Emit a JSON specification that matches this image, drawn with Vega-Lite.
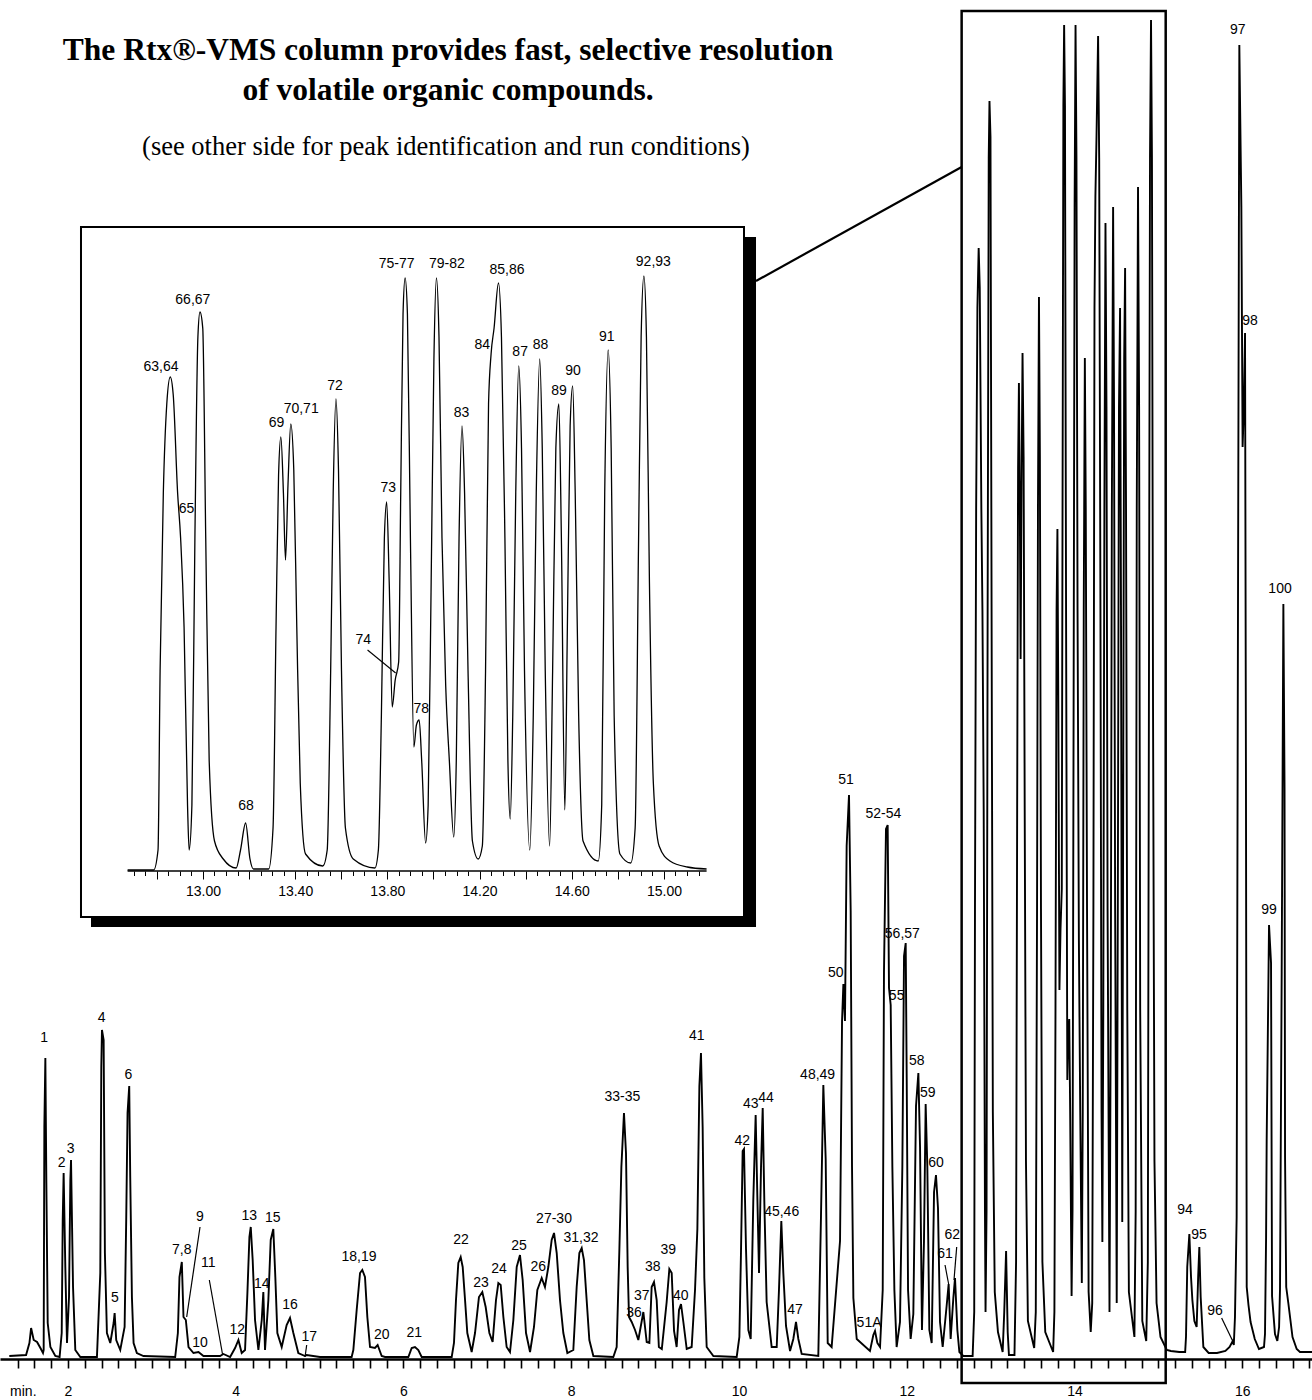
{
"$schema":"https://vega.github.io/schema/vega-lite/v6.json",
"width":1312,"height":1400,"autosize":"none","padding":0,
"config":{"view":{"stroke":null},"axis":{"grid":false}},
"datasets":{
"main":[{"t":1.30,"v":1},{"t":1.50,"v":2},{"t":1.540,"v":14},{"t":1.560,"v":29},{"t":1.591,"v":17},{"t":1.631,"v":15},{"t":1.671,"v":9},{"t":1.702,"v":4},{"t":1.710,"v":7},{"t":1.718,"v":230},{"t":1.730,"v":299},{"t":1.742,"v":174},{"t":1.758,"v":34},{"t":1.790,"v":10},{"t":1.849,"v":1},{"t":1.900,"v":0},{"t":1.925,"v":24},{"t":1.937,"v":137},{"t":1.948,"v":184},{"t":1.968,"v":90},{"t":1.988,"v":14},{"t":2.012,"v":60},{"t":2.028,"v":177},{"t":2.036,"v":197},{"t":2.060,"v":70},{"t":2.087,"v":7},{"t":2.147,"v":0},{"t":2.345,"v":0},{"t":2.385,"v":84},{"t":2.397,"v":290},{"t":2.405,"v":327},{"t":2.425,"v":317},{"t":2.440,"v":104},{"t":2.464,"v":24},{"t":2.504,"v":14},{"t":2.544,"v":34},{"t":2.556,"v":44},{"t":2.575,"v":17},{"t":2.623,"v":7},{"t":2.675,"v":30},{"t":2.694,"v":137},{"t":2.710,"v":244},{"t":2.730,"v":271},{"t":2.742,"v":180},{"t":2.762,"v":60},{"t":2.782,"v":14},{"t":2.821,"v":4},{"t":2.900,"v":1},{"t":3.278,"v":0},{"t":3.310,"v":24},{"t":3.329,"v":80},{"t":3.357,"v":95},{"t":3.377,"v":40},{"t":3.405,"v":37},{"t":3.437,"v":10},{"t":3.496,"v":4},{"t":3.556,"v":5},{"t":3.615,"v":1},{"t":3.813,"v":1},{"t":3.853,"v":3},{"t":3.933,"v":0},{"t":3.992,"v":9},{"t":4.032,"v":17},{"t":4.071,"v":4},{"t":4.111,"v":7},{"t":4.139,"v":64},{"t":4.163,"v":120},{"t":4.179,"v":130},{"t":4.202,"v":97},{"t":4.230,"v":37},{"t":4.270,"v":7},{"t":4.310,"v":37},{"t":4.329,"v":65},{"t":4.349,"v":7},{"t":4.389,"v":57},{"t":4.417,"v":117},{"t":4.448,"v":128},{"t":4.472,"v":80},{"t":4.496,"v":24},{"t":4.548,"v":10},{"t":4.607,"v":32},{"t":4.647,"v":39},{"t":4.687,"v":24},{"t":4.746,"v":4},{"t":4.825,"v":1},{"t":4.845,"v":2},{"t":5.004,"v":0},{"t":5.382,"v":0},{"t":5.402,"v":7},{"t":5.442,"v":47},{"t":5.482,"v":84},{"t":5.509,"v":87},{"t":5.541,"v":80},{"t":5.569,"v":40},{"t":5.601,"v":10},{"t":5.660,"v":9},{"t":5.692,"v":12},{"t":5.740,"v":1},{"t":5.780,"v":0},{"t":6.058,"v":0},{"t":6.098,"v":9},{"t":6.137,"v":10},{"t":6.177,"v":7},{"t":6.217,"v":0},{"t":6.575,"v":0},{"t":6.602,"v":14},{"t":6.626,"v":57},{"t":6.654,"v":94},{"t":6.682,"v":100},{"t":6.706,"v":90},{"t":6.734,"v":57},{"t":6.761,"v":24},{"t":6.813,"v":5},{"t":6.853,"v":24},{"t":6.900,"v":60},{"t":6.940,"v":65},{"t":6.980,"v":50},{"t":7.024,"v":24},{"t":7.063,"v":15},{"t":7.103,"v":57},{"t":7.131,"v":74},{"t":7.159,"v":72},{"t":7.191,"v":40},{"t":7.230,"v":10},{"t":7.270,"v":5},{"t":7.310,"v":37},{"t":7.350,"v":90},{"t":7.389,"v":102},{"t":7.421,"v":77},{"t":7.461,"v":24},{"t":7.509,"v":5},{"t":7.556,"v":30},{"t":7.596,"v":67},{"t":7.648,"v":79},{"t":7.687,"v":70},{"t":7.727,"v":90},{"t":7.767,"v":117},{"t":7.795,"v":124},{"t":7.827,"v":104},{"t":7.866,"v":57},{"t":7.906,"v":24},{"t":7.954,"v":4},{"t":8.025,"v":7},{"t":8.065,"v":70},{"t":8.097,"v":104},{"t":8.125,"v":109},{"t":8.152,"v":97},{"t":8.184,"v":57},{"t":8.216,"v":17},{"t":8.264,"v":1},{"t":8.502,"v":0},{"t":8.542,"v":10},{"t":8.574,"v":107},{"t":8.598,"v":190},{"t":8.629,"v":244},{"t":8.653,"v":204},{"t":8.673,"v":90},{"t":8.689,"v":40},{"t":8.721,"v":35},{"t":8.761,"v":27},{"t":8.800,"v":17},{"t":8.860,"v":45},{"t":8.900,"v":15},{"t":8.932,"v":14},{"t":8.959,"v":70},{"t":8.987,"v":75},{"t":9.019,"v":57},{"t":9.045,"v":10},{"t":9.080,"v":8},{"t":9.138,"v":55},{"t":9.170,"v":88},{"t":9.198,"v":84},{"t":9.226,"v":26},{"t":9.257,"v":10},{"t":9.285,"v":47},{"t":9.309,"v":53},{"t":9.337,"v":35},{"t":9.377,"v":8},{"t":9.436,"v":10},{"t":9.476,"v":67},{"t":9.504,"v":128},{"t":9.528,"v":271},{"t":9.547,"v":304},{"t":9.567,"v":230},{"t":9.587,"v":79},{"t":9.615,"v":10},{"t":9.695,"v":1},{"t":9.973,"v":0},{"t":10.005,"v":20},{"t":10.024,"v":104},{"t":10.044,"v":206},{"t":10.060,"v":208},{"t":10.084,"v":108},{"t":10.112,"v":27},{"t":10.140,"v":18},{"t":10.171,"v":157},{"t":10.199,"v":242},{"t":10.219,"v":161},{"t":10.239,"v":84},{"t":10.263,"v":190},{"t":10.283,"v":249},{"t":10.303,"v":153},{"t":10.330,"v":55},{"t":10.390,"v":10},{"t":10.450,"v":10},{"t":10.477,"v":67},{"t":10.505,"v":136},{"t":10.529,"v":84},{"t":10.561,"v":31},{"t":10.609,"v":6},{"t":10.648,"v":18},{"t":10.680,"v":35},{"t":10.708,"v":18},{"t":10.748,"v":3},{"t":10.946,"v":1},{"t":10.978,"v":141},{"t":11.006,"v":272},{"t":11.034,"v":198},{"t":11.058,"v":14},{"t":11.105,"v":10},{"t":11.205,"v":116},{"t":11.229,"v":336},{"t":11.245,"v":373},{"t":11.264,"v":336},{"t":11.284,"v":511},{"t":11.312,"v":562},{"t":11.332,"v":446},{"t":11.348,"v":190},{"t":11.364,"v":59},{"t":11.404,"v":18},{"t":11.562,"v":6},{"t":11.602,"v":22},{"t":11.622,"v":26},{"t":11.650,"v":14},{"t":11.682,"v":10},{"t":11.714,"v":67},{"t":11.729,"v":385},{"t":11.753,"v":528},{"t":11.773,"v":532},{"t":11.789,"v":369},{"t":11.809,"v":352},{"t":11.829,"v":190},{"t":11.853,"v":67},{"t":11.880,"v":10},{"t":11.920,"v":35},{"t":11.948,"v":190},{"t":11.968,"v":401},{"t":11.988,"v":414},{"t":12.000,"v":279},{"t":12.016,"v":67},{"t":12.047,"v":18},{"t":12.079,"v":43},{"t":12.111,"v":251},{"t":12.139,"v":284},{"t":12.159,"v":210},{"t":12.182,"v":27},{"t":12.206,"v":116},{"t":12.226,"v":253},{"t":12.246,"v":190},{"t":12.270,"v":27},{"t":12.298,"v":14},{"t":12.326,"v":165},{"t":12.349,"v":182},{"t":12.373,"v":149},{"t":12.397,"v":35},{"t":12.429,"v":10},{"t":12.476,"v":51},{"t":12.500,"v":73},{"t":12.524,"v":18},{"t":12.556,"v":59},{"t":12.576,"v":79},{"t":12.604,"v":27},{"t":12.628,"v":5},{"t":12.675,"v":1},{"t":12.786,"v":1},{"t":12.805,"v":45},{"t":12.814,"v":448},{"t":12.828,"v":848},{"t":12.843,"v":1049},{"t":12.858,"v":1109},{"t":12.871,"v":1069},{"t":12.890,"v":848},{"t":12.903,"v":747},{"t":12.918,"v":547},{"t":12.933,"v":146},{"t":12.940,"v":45},{"t":12.952,"v":146},{"t":12.965,"v":747},{"t":12.978,"v":1199},{"t":12.987,"v":1256},{"t":12.999,"v":1220},{"t":13.012,"v":747},{"t":13.027,"v":245},{"t":13.050,"v":65},{"t":13.088,"v":25},{"t":13.144,"v":5},{"t":13.163,"v":45},{"t":13.185,"v":106},{"t":13.204,"v":25},{"t":13.219,"v":2},{"t":13.285,"v":2},{"t":13.304,"v":95},{"t":13.317,"v":547},{"t":13.328,"v":889},{"t":13.338,"v":974},{"t":13.349,"v":848},{"t":13.358,"v":698},{"t":13.369,"v":869},{"t":13.381,"v":1004},{"t":13.394,"v":900},{"t":13.407,"v":547},{"t":13.422,"v":196},{"t":13.445,"v":36},{"t":13.520,"v":9},{"t":13.539,"v":45},{"t":13.554,"v":448},{"t":13.565,"v":848},{"t":13.577,"v":1060},{"t":13.588,"v":900},{"t":13.601,"v":448},{"t":13.618,"v":95},{"t":13.652,"v":25},{"t":13.746,"v":5},{"t":13.761,"v":45},{"t":13.774,"v":347},{"t":13.787,"v":747},{"t":13.797,"v":828},{"t":13.808,"v":648},{"t":13.821,"v":367},{"t":13.834,"v":428},{"t":13.849,"v":468},{"t":13.858,"v":848},{"t":13.868,"v":1251},{"t":13.877,"v":1332},{"t":13.887,"v":1251},{"t":13.900,"v":747},{"t":13.915,"v":277},{"t":13.926,"v":326},{"t":13.938,"v":338},{"t":13.949,"v":245},{"t":13.966,"v":61},{"t":13.977,"v":146},{"t":13.990,"v":648},{"t":14.002,"v":1150},{"t":14.013,"v":1332},{"t":14.024,"v":1199},{"t":14.037,"v":747},{"t":14.053,"v":416},{"t":14.069,"v":245},{"t":14.088,"v":74},{"t":14.099,"v":245},{"t":14.111,"v":747},{"t":14.124,"v":999},{"t":14.135,"v":848},{"t":14.150,"v":448},{"t":14.169,"v":65},{"t":14.194,"v":25},{"t":14.212,"v":54},{"t":14.226,"v":448},{"t":14.239,"v":1049},{"t":14.250,"v":1161},{"t":14.263,"v":1220},{"t":14.282,"v":1321},{"t":14.295,"v":1199},{"t":14.310,"v":747},{"t":14.323,"v":245},{"t":14.333,"v":115},{"t":14.344,"v":347},{"t":14.357,"v":848},{"t":14.370,"v":1134},{"t":14.382,"v":950},{"t":14.395,"v":448},{"t":14.418,"v":45},{"t":14.433,"v":347},{"t":14.446,"v":848},{"t":14.461,"v":1150},{"t":14.472,"v":950},{"t":14.485,"v":448},{"t":14.504,"v":54},{"t":14.517,"v":448},{"t":14.531,"v":950},{"t":14.544,"v":1049},{"t":14.555,"v":747},{"t":14.570,"v":135},{"t":14.581,"v":547},{"t":14.593,"v":999},{"t":14.604,"v":1089},{"t":14.615,"v":848},{"t":14.630,"v":347},{"t":14.649,"v":65},{"t":14.715,"v":20},{"t":14.730,"v":146},{"t":14.743,"v":848},{"t":14.758,"v":1170},{"t":14.771,"v":950},{"t":14.784,"v":347},{"t":14.809,"v":36},{"t":14.856,"v":16},{"t":14.875,"v":95},{"t":14.890,"v":747},{"t":14.901,"v":1199},{"t":14.913,"v":1337},{"t":14.924,"v":1199},{"t":14.937,"v":648},{"t":14.954,"v":196},{"t":14.979,"v":54},{"t":15.026,"v":20},{"t":15.101,"v":7},{"t":15.15,"v":6},{"t":15.25,"v":5},{"t":15.32,"v":5},{"t":15.330,"v":20},{"t":15.345,"v":90},{"t":15.370,"v":123},{"t":15.390,"v":80},{"t":15.406,"v":57},{"t":15.430,"v":36},{"t":15.457,"v":30},{"t":15.475,"v":80},{"t":15.489,"v":110},{"t":15.505,"v":60},{"t":15.537,"v":10},{"t":15.60,"v":4},{"t":15.70,"v":4},{"t":15.80,"v":6},{"t":15.85,"v":10},{"t":15.887,"v":16},{"t":15.900,"v":12},{"t":15.914,"v":40},{"t":15.934,"v":140},{"t":15.950,"v":750},{"t":15.966,"v":1312},{"t":15.990,"v":1150},{"t":16.005,"v":910},{"t":16.020,"v":950},{"t":16.034,"v":1024},{"t":16.045,"v":577},{"t":16.054,"v":70},{"t":16.075,"v":52},{"t":16.10,"v":35},{"t":16.15,"v":18},{"t":16.20,"v":8},{"t":16.260,"v":10},{"t":16.272,"v":23},{"t":16.285,"v":120},{"t":16.292,"v":217},{"t":16.320,"v":432},{"t":16.344,"v":394},{"t":16.356,"v":61},{"t":16.391,"v":23},{"t":16.419,"v":16},{"t":16.440,"v":30},{"t":16.451,"v":68},{"t":16.471,"v":385},{"t":16.491,"v":753},{"t":16.505,"v":568},{"t":16.511,"v":200},{"t":16.525,"v":70},{"t":16.550,"v":54},{"t":16.60,"v":20},{"t":16.65,"v":8},{"t":16.689,"v":5},{"t":16.833,"v":5}],
"mainLabels":[{"label":"1","t":1.717,"v":319},{"label":"2","t":1.925,"v":194},{"label":"3","t":2.032,"v":208},{"label":"4","t":2.402,"v":339},{"label":"5","t":2.560,"v":59},{"label":"6","t":2.719,"v":282},{"label":"7,8","t":3.356,"v":107},{"label":"9","t":3.574,"v":140},{"label":"10","t":3.574,"v":14},{"label":"11","t":3.673,"v":94},{"label":"12","t":4.019,"v":27},{"label":"13","t":4.162,"v":141},{"label":"14","t":4.309,"v":73},{"label":"15","t":4.441,"v":139},{"label":"16","t":4.647,"v":52},{"label":"17","t":4.877,"v":20},{"label":"18,19","t":5.470,"v":100},{"label":"20","t":5.740,"v":22},{"label":"21","t":6.129,"v":24},{"label":"22","t":6.686,"v":117},{"label":"23","t":6.924,"v":74},{"label":"24","t":7.139,"v":88},{"label":"25","t":7.377,"v":111},{"label":"26","t":7.608,"v":90},{"label":"27-30","t":7.795,"v":138},{"label":"31,32","t":8.117,"v":119},{"label":"33-35","t":8.609,"v":260},{"label":"36","t":8.749,"v":44},{"label":"37","t":8.840,"v":61},{"label":"38","t":8.971,"v":90},{"label":"39","t":9.158,"v":107},{"label":"40","t":9.305,"v":61},{"label":"41","t":9.496,"v":321},{"label":"42","t":10.040,"v":216},{"label":"43","t":10.140,"v":253},{"label":"44","t":10.322,"v":259},{"label":"45,46","t":10.509,"v":145},{"label":"47","t":10.668,"v":47},{"label":"48,49","t":10.938,"v":282},{"label":"50","t":11.153,"v":384},{"label":"51","t":11.276,"v":577},{"label":"51A","t":11.551,"v":34},{"label":"52-54","t":11.721,"v":543},{"label":"55","t":11.880,"v":361},{"label":"56,57","t":11.948,"v":423},{"label":"58","t":12.119,"v":296},{"label":"59","t":12.250,"v":264},{"label":"60","t":12.349,"v":194},{"label":"61","t":12.457,"v":103},{"label":"62","t":12.544,"v":122},{"label":"94","t":15.318,"v":147},{"label":"95","t":15.485,"v":122},{"label":"96","t":15.676,"v":46},{"label":"97","t":15.946,"v":1327},{"label":"98","t":16.093,"v":1036},{"label":"99","t":16.320,"v":447},{"label":"100","t":16.451,"v":768}],
"mainLeaders":[{"t":3.574,"v":130,"t2":3.415,"v2":40},{"t":3.685,"v":77,"t2":3.844,"v2":2},{"t":4.846,"v":12,"t2":4.826,"v2":0},{"t":12.457,"v":92,"t2":12.500,"v2":73},{"t":12.596,"v":110,"t2":12.564,"v2":77},{"t":15.755,"v":39,"t2":15.887,"v2":16}],
"headings":[{"kind":"title","text":"The Rtx®-VMS column provides fast, selective resolution","t":6.531,"v":1297},{"kind":"title","text":"of volatile organic compounds.","t":6.531,"v":1257},{"kind":"sub","text":"(see other side for peak identification and run conditions)","t":6.507,"v":1202}],
"inset":[{"t":12.673,"v":0},{"t":12.786,"v":0},{"t":12.805,"v":20},{"t":12.814,"v":199},{"t":12.828,"v":377},{"t":12.843,"v":466},{"t":12.858,"v":493},{"t":12.871,"v":475},{"t":12.890,"v":377},{"t":12.903,"v":332},{"t":12.918,"v":243},{"t":12.933,"v":65},{"t":12.940,"v":20},{"t":12.952,"v":65},{"t":12.965,"v":332},{"t":12.978,"v":533},{"t":12.987,"v":558},{"t":12.999,"v":542},{"t":13.012,"v":332},{"t":13.027,"v":109},{"t":13.050,"v":29},{"t":13.088,"v":11},{"t":13.144,"v":2},{"t":13.163,"v":20},{"t":13.185,"v":47},{"t":13.204,"v":11},{"t":13.219,"v":1},{"t":13.285,"v":1},{"t":13.304,"v":42},{"t":13.317,"v":243},{"t":13.328,"v":395},{"t":13.338,"v":433},{"t":13.349,"v":377},{"t":13.358,"v":310},{"t":13.369,"v":386},{"t":13.381,"v":446},{"t":13.394,"v":400},{"t":13.407,"v":243},{"t":13.422,"v":87},{"t":13.445,"v":16},{"t":13.520,"v":4},{"t":13.539,"v":20},{"t":13.554,"v":199},{"t":13.565,"v":377},{"t":13.577,"v":471},{"t":13.588,"v":400},{"t":13.601,"v":199},{"t":13.618,"v":42},{"t":13.652,"v":11},{"t":13.746,"v":2},{"t":13.761,"v":20},{"t":13.774,"v":154},{"t":13.787,"v":332},{"t":13.797,"v":368},{"t":13.808,"v":288},{"t":13.821,"v":163},{"t":13.834,"v":190},{"t":13.849,"v":208},{"t":13.858,"v":377},{"t":13.868,"v":556},{"t":13.877,"v":592},{"t":13.887,"v":556},{"t":13.900,"v":332},{"t":13.915,"v":123},{"t":13.926,"v":145},{"t":13.938,"v":150},{"t":13.949,"v":109},{"t":13.966,"v":27},{"t":13.977,"v":65},{"t":13.990,"v":288},{"t":14.002,"v":511},{"t":14.013,"v":592},{"t":14.024,"v":533},{"t":14.037,"v":332},{"t":14.053,"v":185},{"t":14.069,"v":109},{"t":14.088,"v":33},{"t":14.099,"v":109},{"t":14.111,"v":332},{"t":14.124,"v":444},{"t":14.135,"v":377},{"t":14.150,"v":199},{"t":14.169,"v":29},{"t":14.194,"v":11},{"t":14.212,"v":24},{"t":14.226,"v":199},{"t":14.239,"v":466},{"t":14.250,"v":516},{"t":14.263,"v":542},{"t":14.282,"v":587},{"t":14.295,"v":533},{"t":14.310,"v":332},{"t":14.323,"v":109},{"t":14.333,"v":51},{"t":14.344,"v":154},{"t":14.357,"v":377},{"t":14.370,"v":504},{"t":14.382,"v":422},{"t":14.395,"v":199},{"t":14.418,"v":20},{"t":14.433,"v":154},{"t":14.446,"v":377},{"t":14.461,"v":511},{"t":14.472,"v":422},{"t":14.485,"v":199},{"t":14.504,"v":24},{"t":14.517,"v":199},{"t":14.531,"v":422},{"t":14.544,"v":466},{"t":14.555,"v":332},{"t":14.570,"v":60},{"t":14.581,"v":243},{"t":14.593,"v":444},{"t":14.604,"v":484},{"t":14.615,"v":377},{"t":14.630,"v":154},{"t":14.649,"v":29},{"t":14.715,"v":9},{"t":14.730,"v":65},{"t":14.743,"v":377},{"t":14.758,"v":520},{"t":14.771,"v":422},{"t":14.784,"v":154},{"t":14.809,"v":16},{"t":14.856,"v":7},{"t":14.875,"v":42},{"t":14.890,"v":332},{"t":14.901,"v":533},{"t":14.913,"v":594},{"t":14.924,"v":533},{"t":14.937,"v":288},{"t":14.954,"v":87},{"t":14.979,"v":24},{"t":15.026,"v":9},{"t":15.101,"v":3},{"t":15.185,"v":1}],
"insetLabels":[{"label":"63,64","t":12.818,"v":503},{"label":"65","t":12.929,"v":361},{"label":"66,67","t":12.956,"v":570},{"label":"68","t":13.187,"v":64},{"label":"69","t":13.319,"v":447},{"label":"70,71","t":13.426,"v":461},{"label":"72","t":13.573,"v":484},{"label":"73","t":13.804,"v":382},{"label":"74","t":13.695,"v":230},{"label":"75-77","t":13.840,"v":606},{"label":"78","t":13.947,"v":161},{"label":"79-82","t":14.058,"v":606},{"label":"83","t":14.122,"v":457},{"label":"84","t":14.212,"v":525},{"label":"85,86","t":14.319,"v":600},{"label":"87","t":14.376,"v":518},{"label":"88","t":14.464,"v":525},{"label":"89","t":14.545,"v":479},{"label":"90","t":14.605,"v":499},{"label":"91","t":14.752,"v":533},{"label":"92,93","t":14.954,"v":608}],
"insetLeaders":[{"t":13.714,"v":220,"t2":13.836,"v2":197}]
},
"layer":[
{"layer":[
 {"data":{"name":"main"},"mark":{"type":"line","color":"black","strokeWidth":1.9,"interpolate":"linear"},
  "encoding":{"x":{"field":"t","type":"quantitative","scale":{"domain":[1.18922,16.8324],"nice":false,"zero":false},
   "axis":{"orient":"bottom","offset":-41,"title":null,"tickCount":300,"values":[1.4,1.6,1.8,2,2.2,2.4,2.6,2.8,3,3.2,3.4,3.6,3.8,4,4.2,4.4,4.6,4.8,5,5.2,5.4,5.6,5.8,6,6.2,6.4,6.6,6.8,7,7.2,7.4,7.6,7.8,8,8.2,8.4,8.6,8.8,9,9.2,9.4,9.6,9.8,10,10.2,10.4,10.6,10.8,11,11.2,11.4,11.6,11.8,12,12.2,12.4,12.6,12.8,13,13.2,13.4,13.6,13.8,14,14.2,14.4,14.6,14.8,15,15.2,15.4,15.6,15.8,16,16.2,16.4,16.6,16.8],
    "labelExpr":"abs(datum.value/2 - round(datum.value/2)) < 0.01 ? format(datum.value,'d') : ''",
    "domainColor":"black","domainWidth":2.5,"tickColor":"black","tickWidth":1.6,"tickSize":9,"labelColor":"black","labelFont":"Liberation Sans, sans-serif","labelFontSize":14,"labelPadding":16,"labelOverlap":false,"labelFlush":false,"grid":false}},
   "y":{"field":"v","type":"quantitative","scale":{"domain":[-43,1357],"nice":false,"zero":false},"axis":null},"order":{"field":"t","type":"quantitative"}}},
 {"data":{"name":"mainLabels"},"mark":{"type":"text","font":"Liberation Sans, sans-serif","fontSize":14,"align":"center","baseline":"middle","color":"black"},
  "encoding":{"x":{"field":"t","type":"quantitative","scale":{"domain":[1.18922,16.8324],"nice":false,"zero":false}},"y":{"field":"v","type":"quantitative","scale":{"domain":[-43,1357],"nice":false,"zero":false},"axis":null},"text":{"field":"label"}}},
 {"data":{"name":"mainLeaders"},"mark":{"type":"rule","color":"black","strokeWidth":1.2},
  "encoding":{"x":{"field":"t","type":"quantitative","scale":{"domain":[1.18922,16.8324],"nice":false,"zero":false}},"x2":{"field":"t2"},"y":{"field":"v","type":"quantitative","scale":{"domain":[-43,1357],"nice":false,"zero":false},"axis":null},"y2":{"field":"v2"}}},
 {"data":{"name":"headings"},"transform":[{"filter":"datum.kind == 'title'"}],"mark":{"type":"text","font":"Liberation Serif","fontWeight":"bold","fontSize":31.5,"align":"center","baseline":"alphabetic","color":"black"},
  "encoding":{"x":{"field":"t","type":"quantitative","scale":{"domain":[1.18922,16.8324],"nice":false,"zero":false}},"y":{"field":"v","type":"quantitative","scale":{"domain":[-43,1357],"nice":false,"zero":false},"axis":null},"text":{"field":"text"}}},
 {"data":{"name":"headings"},"transform":[{"filter":"datum.kind == 'sub'"}],"mark":{"type":"text","font":"Liberation Serif","fontSize":26.5,"align":"center","baseline":"alphabetic","color":"black"},
  "encoding":{"x":{"field":"t","type":"quantitative","scale":{"domain":[1.18922,16.8324],"nice":false,"zero":false}},"y":{"field":"v","type":"quantitative","scale":{"domain":[-43,1357],"nice":false,"zero":false},"axis":null},"text":{"field":"text"}}},
 {"data":{"values":[{"label":"min."}]},"mark":{"type":"text","font":"Liberation Sans, sans-serif","fontSize":14,"align":"center","baseline":"middle","color":"black"},
  "encoding":{"x":{"datum":1.467,"type":"quantitative","scale":{"domain":[1.18922,16.8324],"nice":false,"zero":false}},"y":{"datum":-35,"type":"quantitative","scale":{"domain":[-43,1357],"nice":false,"zero":false},"axis":null},"text":{"field":"label"}}},
 {"data":{"values":[{}]},"mark":{"type":"rect","filled":false,"color":"black","strokeWidth":2.5},
  "encoding":{"x":{"datum":12.655,"type":"quantitative","scale":{"domain":[1.18922,16.8324],"nice":false,"zero":false}},"x2":{"datum":15.088},"y":{"datum":1346,"type":"quantitative","scale":{"domain":[-43,1357],"nice":false,"zero":false},"axis":null},"y2":{"datum":-26}}},
 {"data":{"values":[{}]},"mark":{"type":"rule","color":"black","strokeWidth":2.2},
  "encoding":{"x":{"datum":10.203,"type":"quantitative","scale":{"domain":[1.18922,16.8324],"nice":false,"zero":false}},"x2":{"datum":12.655},"y":{"datum":1076,"type":"quantitative","scale":{"domain":[-43,1357],"nice":false,"zero":false},"axis":null},"y2":{"datum":1190}}}
]},
{"layer":[
 {"data":{"name":"inset"},"mark":{"type":"line","color":"black","strokeWidth":1.3,"interpolate":"monotone"},
  "encoding":{"x":{"field":"t","type":"quantitative","scale":{"domain":[12.1194,17.8116],"nice":false,"zero":false},
   "axis":{"orient":"bottom","offset":-529,"zindex":1,"title":null,"domain":false,"tickCount":300,"values":[12.7,12.75,12.8,12.85,12.9,12.95,13,13.05,13.1,13.15,13.2,13.25,13.3,13.35,13.4,13.45,13.5,13.55,13.6,13.65,13.7,13.75,13.8,13.85,13.9,13.95,14,14.05,14.1,14.15,14.2,14.25,14.3,14.35,14.4,14.45,14.5,14.55,14.6,14.65,14.7,14.75,14.8,14.85,14.9,14.95,15,15.05,15.1,15.15],
    "labelExpr":"abs((datum.value-13)/0.4 - round((datum.value-13)/0.4)) < 0.01 ? format(datum.value,'.2f') : ''",
    "tickColor":"black","tickWidth":1,"tickSize":{"condition":{"test":"abs(datum.value*5 - round(datum.value*5)) < 0.01","value":8},"value":4.5},
    "labelColor":"black","labelFont":"Liberation Sans, sans-serif","labelFontSize":14,"labelPadding":5,"labelOverlap":false,"labelFlush":false,"grid":false}},
   "y":{"field":"v","type":"quantitative","scale":{"domain":[-530,870],"nice":false,"zero":false},"axis":null},"order":{"field":"t","type":"quantitative"}}},
 {"data":{"values":[{}]},"mark":{"type":"rect","color":"black"},
  "encoding":{"x":{"datum":15.3473,"type":"quantitative","scale":{"domain":[12.1194,17.8116],"nice":false,"zero":false}},"x2":{"datum":15.3994},"y":{"datum":633,"type":"quantitative","scale":{"domain":[-530,870],"nice":false,"zero":false},"axis":null},"y2":{"datum":-57}}},
 {"data":{"values":[{}]},"mark":{"type":"rect","color":"black"},
  "encoding":{"x":{"datum":12.5142,"type":"quantitative","scale":{"domain":[12.1194,17.8116],"nice":false,"zero":false}},"x2":{"datum":15.3994},"y":{"datum":-47,"type":"quantitative","scale":{"domain":[-530,870],"nice":false,"zero":false},"axis":null},"y2":{"datum":-57}}},
 {"data":{"values":[{}]},"mark":{"type":"rect","filled":false,"color":"black","strokeWidth":2},
  "encoding":{"x":{"datum":12.4708,"type":"quantitative","scale":{"domain":[12.1194,17.8116],"nice":false,"zero":false}},"x2":{"datum":15.3473},"y":{"datum":643,"type":"quantitative","scale":{"domain":[-530,870],"nice":false,"zero":false},"axis":null},"y2":{"datum":-47}}},
 {"data":{"values":[{}]},"mark":{"type":"rule","color":"black","strokeWidth":1.3},
  "encoding":{"x":{"datum":12.673,"type":"quantitative","scale":{"domain":[12.1194,17.8116],"nice":false,"zero":false}},"x2":{"datum":15.185},"y":{"datum":-1,"type":"quantitative","scale":{"domain":[-530,870],"nice":false,"zero":false},"axis":null}}},
 {"data":{"name":"insetLabels"},"mark":{"type":"text","font":"Liberation Sans, sans-serif","fontSize":14,"align":"center","baseline":"middle","color":"black"},
  "encoding":{"x":{"field":"t","type":"quantitative","scale":{"domain":[12.1194,17.8116],"nice":false,"zero":false}},"y":{"field":"v","type":"quantitative","scale":{"domain":[-530,870],"nice":false,"zero":false},"axis":null},"text":{"field":"label"}}},
 {"data":{"name":"insetLeaders"},"mark":{"type":"rule","color":"black","strokeWidth":1.1},
  "encoding":{"x":{"field":"t","type":"quantitative","scale":{"domain":[12.1194,17.8116],"nice":false,"zero":false}},"x2":{"field":"t2"},"y":{"field":"v","type":"quantitative","scale":{"domain":[-530,870],"nice":false,"zero":false},"axis":null},"y2":{"field":"v2"}}}
]}
],
"resolve":{"scale":{"x":"independent","y":"independent"},"axis":{"x":"independent","y":"independent"}}
}
